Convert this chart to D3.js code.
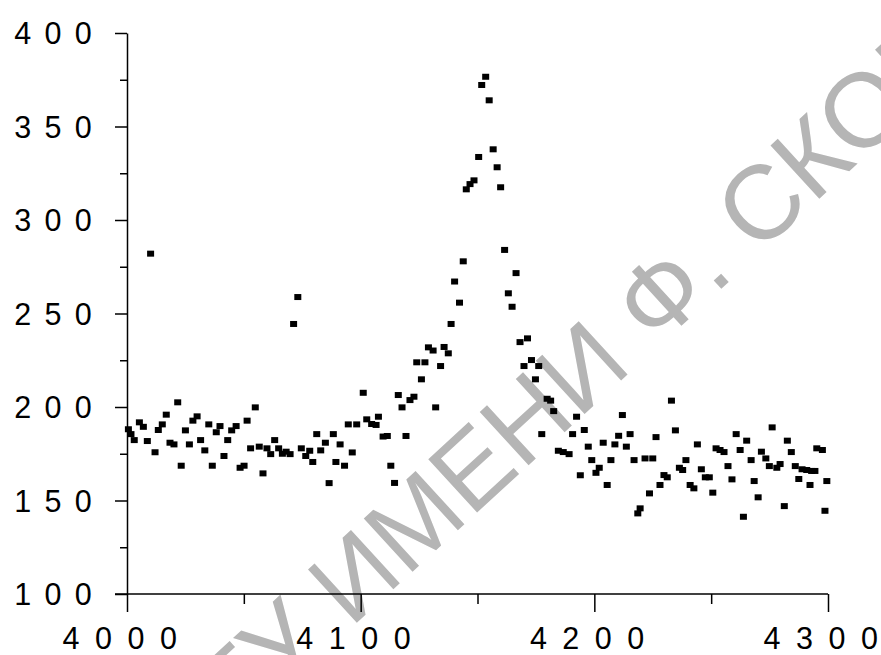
<!DOCTYPE html>
<html>
<head>
<meta charset="utf-8">
<script src="https://cdn.jsdelivr.net/npm/d3@7"></script>
<style>
  html, body { margin: 0; padding: 0; background: #fff; }
  svg { display: block; }
  .tick-label { font-family: "Liberation Sans", Arial, sans-serif; font-size: 30.5px; fill: #000; }
  .x-label { letter-spacing: 15.5px; }
  .y-label { letter-spacing: 13.3px; }
  .watermark { font-family: "Liberation Sans", Arial, sans-serif; font-size: 105px; fill: #b5b5b5; }
</style>
</head>
<body>
<div id="chart"></div>
<script>
var wavelength = [
  4000.6, 4001.7, 4003.1, 4005.3, 4007.0, 4008.7, 4010.1, 4012.0, 4013.4, 4015.1,
  4016.8, 4018.4, 4020.1, 4021.7, 4023.2, 4025.0, 4026.7, 4028.2, 4030.0, 4031.5,
  4033.3, 4035.0, 4036.5, 4038.2, 4039.8, 4041.5, 4043.1, 4044.8, 4046.7, 4048.4,
  4050.1, 4051.4, 4052.9, 4054.9, 4056.6, 4058.2, 4059.9, 4061.5, 4063.2, 4064.9,
  4066.5, 4068.1, 4069.8, 4071.3, 4073.1, 4074.6, 4076.5, 4078.2, 4079.5, 4081.2,
  4082.9, 4084.9, 4086.5, 4088.3, 4089.4, 4091.2, 4093.1, 4094.7, 4096.4, 4098.3,
  4101.1, 4102.6, 4104.7, 4106.6, 4107.6, 4109.6, 4111.4, 4112.9, 4114.5, 4116.1,
  4117.7, 4119.4, 4121.1, 4122.8, 4124.0, 4126.0, 4127.5, 4129.0, 4131.0, 4132.1,
  4134.2, 4135.7, 4137.5, 4138.7, 4140.2, 4142.3, 4143.9, 4145.2, 4146.8, 4148.5,
  4150.5, 4151.8, 4153.5, 4155.0, 4156.7, 4158.4, 4159.9, 4161.6, 4163.2, 4164.8,
  4166.5, 4168.2, 4171.4, 4169.9, 4173.1, 4174.8, 4176.2, 4177.5, 4179.8, 4181.3,
  4182.6, 4184.6, 4186.7, 4189.2, 4190.7, 4192.4, 4194.0, 4195.7, 4197.4, 4198.9,
  4200.7, 4202.1, 4203.8, 4205.5, 4207.1, 4208.8, 4210.4, 4212.0, 4213.7, 4215.3,
  4217.0, 4218.6, 4219.6, 4221.7, 4225.0, 4223.6, 4226.4, 4228.1, 4229.8, 4231.2,
  4233.0, 4234.7, 4236.4, 4237.8, 4239.2, 4241.0, 4242.6, 4244.1, 4245.8, 4247.5,
  4249.2, 4250.7, 4252.1, 4253.8, 4255.5, 4257.2, 4258.9, 4260.7, 4262.4, 4263.8,
  4265.2, 4267.1, 4268.4, 4270.1, 4271.5, 4273.4, 4274.9, 4276.1, 4278.1, 4279.5,
  4281.3, 4282.6, 4284.3, 4286.0, 4287.5, 4288.9, 4290.9, 4292.3, 4293.0, 4294.4,
  4295.2, 4297.6, 4298.7, 4299.5
];

var intensity = [
  188.1, 185.5, 182.3, 191.8, 189.4, 181.8, 282.0, 175.8, 187.7, 190.7,
  195.9, 180.9, 180.0, 202.5, 168.6, 187.5, 180.0, 192.7, 195.0, 182.3,
  176.8, 190.7, 168.6, 186.5, 189.8, 173.8, 182.3, 187.5, 189.8, 167.5,
  168.6, 192.7, 177.9, 199.8, 178.8, 164.5, 177.9, 174.8, 182.3, 177.9,
  175.0, 176.1, 174.8, 244.4, 258.8, 177.9, 173.8, 176.6, 170.6, 185.5,
  176.8, 180.9, 159.3, 185.5, 170.6, 180.0, 168.6, 190.7, 175.7, 190.7,
  207.6, 193.4, 190.9, 190.4, 194.8, 184.2, 184.5, 168.6, 159.4, 206.4,
  199.8, 184.5, 203.7, 205.5, 223.9, 214.8, 223.9, 231.9, 230.2, 199.8,
  221.9, 232.1, 228.7, 244.4, 267.1, 255.8, 277.9, 316.4, 319.2, 321.2,
  333.7, 372.2, 376.6, 364.0, 337.8, 328.2, 317.5, 284.0, 260.8, 253.6,
  271.6, 234.7, 236.7, 221.9, 225.1, 214.8, 221.9, 185.5, 204.4, 203.4,
  197.8, 176.6, 175.9, 174.8, 185.5, 194.8, 163.5, 187.7, 178.8, 171.6,
  164.8, 167.5, 180.9, 158.3, 171.6, 180.0, 184.6, 195.7, 178.8, 185.5,
  171.6, 143.1, 145.8, 172.5, 172.5, 153.8, 183.9, 158.3, 163.6, 162.4,
  203.4, 187.5, 167.5, 166.3, 171.6, 158.3, 156.5, 180.0, 166.7, 162.4,
  162.4, 154.2, 177.9, 177.0, 175.9, 168.4, 161.3, 185.5, 177.0, 141.3,
  182.0, 171.6, 160.4, 151.7, 176.1, 172.5, 168.4, 189.1, 167.5, 169.5,
  147.0, 182.0, 175.9, 168.4, 161.5, 166.7, 166.3, 158.3, 165.8, 165.8,
  177.9, 177.0, 144.5, 160.4
];

var xTicks = [4000, 4100, 4200, 4300];
var xMinorTicks = [4050, 4150, 4250];
var yTicks = [100, 150, 200, 250, 300, 350, 400];
var yMinorTicks = [125, 175, 225, 275, 325, 375];
var watermarkText = 'ГГУ ИМЕНИ Ф. СКОРИНЫ';

var spectrumChart = {

  config: {
    width: 881,
    height: 655,
    left: 127,
    right: 828,
    top: 33,
    bottom: 594
  },

  /* ---
   * Draws the whole chart
   */
  display: function(el) {
    this.el = el;

    this.createSvg();
    this.createScales();
    this.createWatermark();
    this.createAxes();
    this.createPoints();
  },

  createSvg: function() {
    this.svg = d3.select(this.el).append('svg')
                 .attr('width', this.config.width)
                 .attr('height', this.config.height);
  },

  createScales: function() {
    this.x = d3.scaleLinear().domain([4000, 4300]).range([this.config.left, this.config.right]);
    this.y = d3.scaleLinear().domain([100, 400]).range([this.config.bottom, this.config.top]);
  },

  /* ---
   * Grey diagonal stamp lying behind the data
   */
  createWatermark: function() {
    this.svg.append('text')
            .attr('class', 'watermark')
            .attr('transform', 'translate(196,770) rotate(-42.5)')
            .text(watermarkText);
  },

  createAxes: function() {
    var c = this.config;

    // x axis: major ticks with labels, minor ticks without
    var gx = this.svg.append('g')
                     .attr('transform', 'translate(0,' + c.bottom + ')');
    gx.call(d3.axisBottom(this.x).tickValues(xTicks).tickSize(18).tickSizeOuter(0).tickFormat(d3.format('d')));
    gx.append('g').call(d3.axisBottom(this.x).tickValues(xMinorTicks).tickSize(10).tickFormat(''))
      .select('.domain').remove();
    gx.select('.domain').attr('d', 'M' + (c.left - 12) + ',0H' + c.right);
    gx.selectAll('.tick text')
      .attr('class', 'tick-label x-label')
      .attr('y', 54.5)
      .attr('dy', 0);

    // y axis
    var gy = this.svg.append('g')
                     .attr('transform', 'translate(' + c.left + ',0)');
    gy.call(d3.axisLeft(this.y).tickValues(yTicks).tickSize(12).tickSizeOuter(0).tickFormat(d3.format('d')));
    gy.append('g').call(d3.axisLeft(this.y).tickValues(yMinorTicks).tickSize(7).tickFormat(''))
      .select('.domain').remove();
    gy.selectAll('.tick text')
      .attr('class', 'tick-label y-label')
      .attr('x', -22)
      .attr('dy', '0.36em');

    this.svg.selectAll('.domain, .tick line')
            .attr('stroke', '#000')
            .attr('stroke-width', 1.5);
    this.svg.selectAll('.tick text').attr('font-family', null).attr('font-size', null);
  },

  createPoints: function() {
    var self = this,
        w = 7, h = 6;

    this.svg.append('g')
            .selectAll('rect')
            .data(d3.range(wavelength.length))
            .enter()
            .append('rect')
            .attr('x', function(i) { return self.x(wavelength[i]) - w / 2; })
            .attr('y', function(i) { return self.y(intensity[i]) - h / 2; })
            .attr('width', w)
            .attr('height', h)
            .attr('fill', '#000');
  }

};

spectrumChart.display('#chart');
</script>
</body>
</html>
